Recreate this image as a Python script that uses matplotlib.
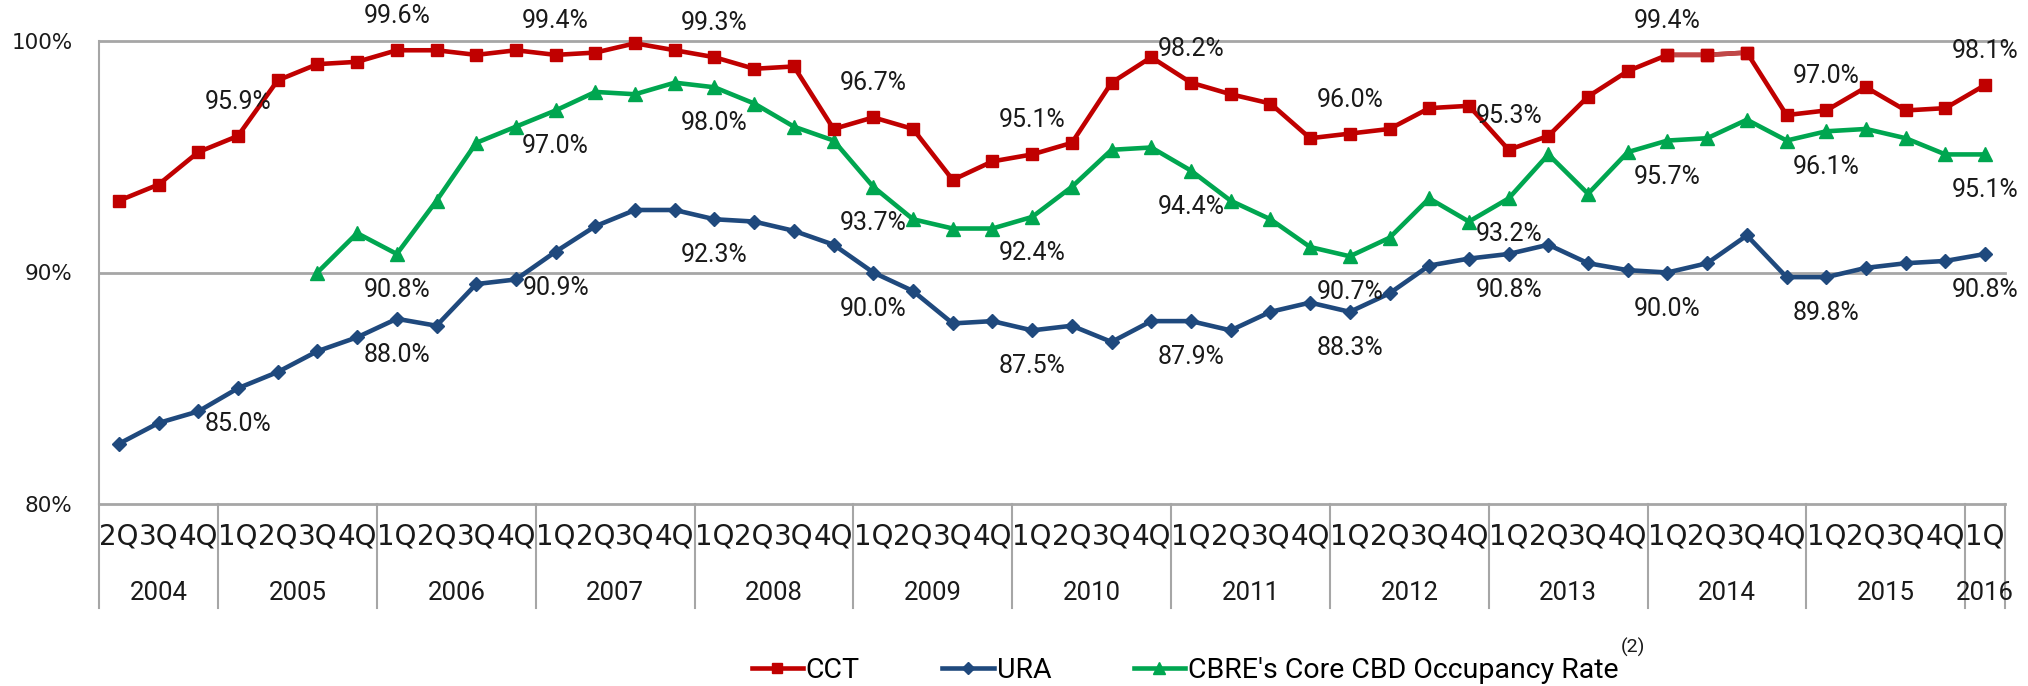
import numpy as np
import matplotlib
matplotlib.use("Agg")
import matplotlib.pyplot as plt
from matplotlib.transforms import blended_transform_factory
from matplotlib.lines import Line2D

quarters = ["2Q", "3Q", "4Q"] + ["1Q", "2Q", "3Q", "4Q"] * 11 + ["1Q"]
years = ["2004", "2005", "2006", "2007", "2008", "2009", "2010", "2011",
         "2012", "2013", "2014", "2015", "2016"]
year_counts = [3] + [4] * 11 + [1]

cct = [93.1, 93.8, 95.2, 95.9, 98.3, 99.0, 99.1, 99.6, 99.6, 99.4,
       99.6, 99.4, 99.5, 99.9, 99.6, 99.3, 98.8, 98.9, 96.2, 96.7,
       96.2, 94.0, 94.8, 95.1, 95.6, 98.2, 99.3, 98.2, 97.7, 97.3,
       95.8, 96.0, 96.2, 97.1, 97.2, 95.3, 95.9, 97.6, 98.7, 99.4,
       99.4, 99.5, 96.8, 97.0, 98.0, 97.0, 97.1, 98.1]
ura = [82.6, 83.5, 84.0, 85.0, 85.7, 86.6, 87.2, 88.0, 87.7, 89.5,
       89.7, 90.9, 92.0, 92.7, 92.7, 92.3, 92.2, 91.8, 91.2, 90.0,
       89.2, 87.8, 87.9, 87.5, 87.7, 87.0, 87.9, 87.9, 87.5, 88.3,
       88.7, 88.3, 89.1, 90.3, 90.6, 90.8, 91.2, 90.4, 90.1, 90.0,
       90.4, 91.6, 89.8, 89.8, 90.2, 90.4, 90.5, 90.8]
cbre = [np.nan] * 5 + [
       90.0, 91.7, 90.8, 93.1, 95.6, 96.3, 97.0, 97.8, 97.7, 98.2,
       98.0, 97.3, 96.3, 95.7, 93.7, 92.3, 91.9, 91.9, 92.4, 93.7,
       95.3, 95.4, 94.4, 93.1, 92.3, 91.1, 90.7, 91.5, 93.2, 92.2,
       93.2, 95.1, 93.4, 95.2, 95.7, 95.8, 96.6, 95.7, 96.1, 96.2,
       95.8, 95.1, 95.1]
label_idx = list(range(3, 48, 4))
light_seg = [39, 40, 41]

RED = "#C00000"
BLUE = "#1F497D"
GREEN = "#00A650"
GRID = "#A6A6A6"
TXT = "#1a1a1a"

W, H = 2028, 686
fig = plt.figure(figsize=(W / 100, H / 100), dpi=100)
ax = fig.add_axes([99 / W, 1 - 504 / H, (2005 - 99) / W, (504 - 41) / H])

x = np.arange(len(quarters))
ax.set_xlim(-0.5, len(quarters) - 0.5)
ax.set_ylim(80, 100)

for s in ["top", "right", "bottom"]:
    ax.spines[s].set_visible(False)
ax.spines["left"].set_color(GRID)
ax.spines["left"].set_linewidth(1.5)
for yv in [80, 90, 100]:
    ax.axhline(yv, color=GRID, lw=2, zorder=1, clip_on=False)

lw = 3.3
l_cct, = ax.plot(x, cct, color=RED, lw=lw, marker="s", ms=8.5, zorder=4,
                 clip_on=False)
ax.plot(x[light_seg], np.array(cct)[light_seg], color="#C04848", lw=lw,
        zorder=4.5, clip_on=False)
ax.plot(x[light_seg], np.array(cct)[light_seg], color=RED, lw=0, marker="s",
        ms=8.5, zorder=4.6, clip_on=False)
l_ura, = ax.plot(x, ura, color=BLUE, lw=lw, marker="D", ms=7, zorder=3,
                 clip_on=False)
l_cbre, = ax.plot(x, cbre, color=GREEN, lw=lw, marker="^", ms=9.5, zorder=3.5,
                  clip_on=False)

lab_font = dict(family="Roboto", fontsize=18, color=TXT)
for i in label_idx:
    ax.annotate(f"{cct[i]:.1f}%", (x[i], cct[i]), xytext=(0, 34),
                textcoords="offset pixels", ha="center", va="center",
                zorder=6, annotation_clip=False, **lab_font)
    ax.annotate(f"{ura[i]:.1f}%", (x[i], ura[i]), xytext=(0, -36),
                textcoords="offset pixels", ha="center", va="center",
                zorder=6, annotation_clip=False, **lab_font)
    if not np.isnan(cbre[i]):
        ax.annotate(f"{cbre[i]:.1f}%", (x[i], cbre[i]), xytext=(0, -36),
                    textcoords="offset pixels", ha="center", va="center",
                    zorder=6, annotation_clip=False, **lab_font)

# y ticks
ax.set_yticks([80, 90, 100])
ax.set_yticklabels(["80%", "90%", "100%"], family="DejaVu Sans", fontsize=15.5,
                   color=TXT)
ax.tick_params(axis="y", length=0, pad=19)
ax.set_xticks([])

# category axis labels
tr = blended_transform_factory(ax.transData, ax.transAxes)
ah = 504 - 41
for i, q in enumerate(quarters):
    ax.text(x[i], -33 / ah, q, transform=tr, ha="center", va="center",
            family="DejaVu Sans", fontsize=20, color=TXT, clip_on=False)
start = -0.5
bounds = [start]
for y_lab, c in zip(years, year_counts):
    ax.text(start + c / 2, -89 / ah, y_lab, transform=tr, ha="center",
            va="center", family="Roboto", fontsize=18.5, color=TXT,
            clip_on=False)
    start += c
    bounds.append(start)
for b in bounds:
    ax.add_line(Line2D([b, b], [0, -104 / ah], transform=tr, color=GRID,
                       lw=1.5, clip_on=False))

# legend
fig.legend([l_cct, l_ura, l_cbre],
           ["CCT", "URA", "CBRE's Core CBD Occupancy Rate"],
           loc="center", bbox_to_anchor=(1185 / W, 1 - 670 / H), ncol=3,
           frameon=False, prop=dict(family="Roboto", size=20.5),
           handlelength=1.8, handletextpad=0.1, columnspacing=2.9,
           markerscale=0.9)
fig.text(1633 / W, 1 - 647 / H, "(2)", family="Roboto", fontsize=14,
         ha="center", va="center", color=TXT)

fig.savefig("out.png", dpi=100)
